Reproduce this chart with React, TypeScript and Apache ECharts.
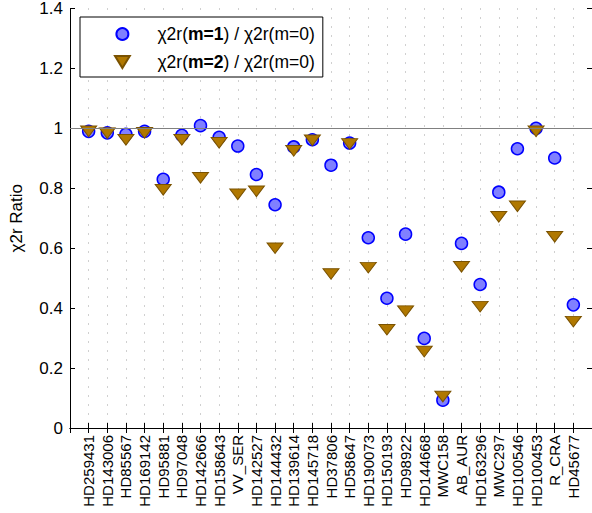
import React, { useEffect, useRef } from "react";
import * as echarts from "echarts";

const categories = [
  "HD259431", "HD143006", "HD85567", "HD169142", "HD95881", "HD97048", "HD142666",
  "HD158643", "VV_SER", "HD142527", "HD144432", "HD139614", "HD145718", "HD37806",
  "HD58647", "HD190073", "HD150193", "HD98922", "HD144668", "MWC158", "AB_AUR",
  "HD163296", "MWC297", "HD100546", "HD100453", "R_CRA", "HD45677",
];

const ratioM1 = [
  0.99, 0.985, 0.98, 0.99, 0.83, 0.977, 1.009, 0.97, 0.941, 0.846, 0.745, 0.938, 0.962,
  0.877, 0.951, 0.635, 0.433, 0.647, 0.299, 0.093, 0.616, 0.479, 0.787, 0.932, 1.0, 0.901, 0.411,
];

const ratioM2 = [
  0.99, 0.984, 0.962, 0.985, 0.795, 0.962, 0.835, 0.952, 0.78, 0.79, 0.6, 0.925, 0.96,
  0.514, 0.948, 0.535, 0.328, 0.39, 0.255, 0.105, 0.538, 0.405, 0.705, 0.74, 0.99, 0.638, 0.355,
];

const yTicks = { min: 0, max: 1.4, interval: 0.2 };
const referenceLevel = 1;

const FONT = "Liberation Sans, Arial, sans-serif";

export default function App() {
  const ref = useRef<HTMLDivElement>(null);

  useEffect(() => {
    if (!ref.current) return;
    const chart = echarts.init(ref.current, undefined, { renderer: "svg" });
    const axisData = ["", ...categories, ""];
    const legendNames: Record<string, string> = {
      m1: "{n|χ2r(}{b|m=1}{n|) / χ2r(m=0)}",
      m2: "{n|χ2r(}{b|m=2}{n|) / χ2r(m=0)}",
    };
    chart.setOption({
      animation: false,
      backgroundColor: "#fff",
      textStyle: { fontFamily: FONT },
      grid: { left: 70, right: -2, top: 7, bottom: 85, containLabel: false },
      legend: {
        left: 80,
        top: 17,
        orient: "vertical",
        padding: [7, 8, 5, 34],
        itemWidth: 60,
        itemHeight: 12,
        itemGap: 8,
        borderColor: "#000",
        borderWidth: 1,
        borderRadius: 0,
        backgroundColor: "#fff",
        data: ["m1", "m2"],
        formatter: (name: string) => legendNames[name],
        textStyle: {
          fontFamily: FONT,
          fontSize: 17.5,
          color: "#000",
          lineHeight: 20,
          rich: {
            n: { fontFamily: FONT, fontSize: 17.5, color: "#000", lineHeight: 20 },
            b: { fontFamily: FONT, fontSize: 17.5, color: "#000", fontWeight: "bold", lineHeight: 20 },
          },
        },
      },
      xAxis: [
        {
          type: "category",
          data: axisData,
          boundaryGap: false,
          position: "bottom",
          axisLine: { lineStyle: { color: "#000", width: 1 } },
          axisTick: { show: true, inside: true, length: 5, interval: 0, lineStyle: { color: "#000" } },
          axisLabel: {
            interval: 0,
            rotate: 90,
            margin: 7,
            fontSize: 15,
            color: "#000",
            fontFamily: FONT,
          },
          splitLine: {
            show: true,
            interval: 0,
            lineStyle: { color: "#a0a0a0", width: 1, type: [1, 8] },
          },
        },
        {
          type: "category",
          data: axisData,
          boundaryGap: false,
          position: "top",
          axisLine: { lineStyle: { color: "#000", width: 1 } },
          axisTick: { show: true, inside: true, length: 5, interval: 0, lineStyle: { color: "#000" } },
          axisLabel: { show: false },
          splitLine: { show: false },
        },
      ],
      yAxis: [
        {
          type: "value",
          min: yTicks.min,
          max: yTicks.max,
          interval: yTicks.interval,
          position: "left",
          name: "χ2r Ratio",
          nameLocation: "middle",
          nameGap: 45,
          nameTextStyle: { fontSize: 17, color: "#000", fontFamily: FONT },
          axisLine: { show: true, lineStyle: { color: "#000", width: 1 } },
          axisTick: { show: true, inside: true, length: 5, lineStyle: { color: "#000" } },
          axisLabel: {
            fontSize: 17,
            color: "#000",
            margin: 7,
            fontFamily: FONT,
            formatter: (v: number) => String(Math.round(v * 10) / 10),
          },
          splitLine: { show: false },
        },
        {
          type: "value",
          min: yTicks.min,
          max: yTicks.max,
          interval: yTicks.interval,
          position: "right",
          axisLine: { show: true, lineStyle: { color: "#000", width: 1 } },
          axisTick: { show: true, inside: true, length: 5, lineStyle: { color: "#000" } },
          axisLabel: { show: false },
          splitLine: { show: false },
        },
      ],
      series: [
        {
          name: "m1",
          type: "scatter",
          xAxisIndex: 0,
          yAxisIndex: 0,
          symbol: "circle",
          symbolSize: 12,
          itemStyle: { color: "#8080ff", borderColor: "#0000ff", borderWidth: 1.5, opacity: 1 },
          data: ratioM1.map((v, i) => [i + 1, v]),
          z: 3,
          markLine: {
            silent: true,
            symbol: ["none", "none"],
            label: { show: false },
            lineStyle: { color: "#808080", width: 1, type: "solid" },
            data: [{ yAxis: referenceLevel }],
          },
        },
        {
          name: "m2",
          type: "scatter",
          xAxisIndex: 0,
          yAxisIndex: 0,
          symbol: "path://M0 0L16 0L8 13Z",
          symbolSize: [16, 13],
          symbolKeepAspect: true,
          itemStyle: { color: "#b07800", borderColor: "#7a5200", borderWidth: 1, opacity: 1 },
          data: ratioM2.map((v, i) => [i + 1, v]),
          z: 4,
        },
      ],
    });
    return () => chart.dispose();
  }, []);

  return (
    <div
      ref={ref}
      style={{ position: "absolute", left: 0, top: 0, width: 592, height: 513 }}
    />
  );
}
